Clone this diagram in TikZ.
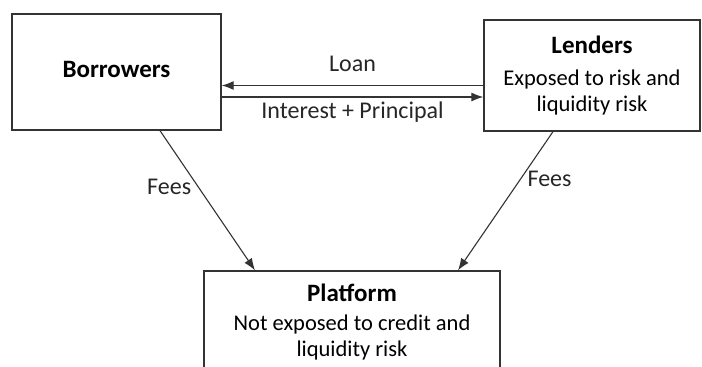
\documentclass[tikz,border=0pt]{standalone}
\usepackage{fontspec}
\setmainfont{Carlito}
\usetikzlibrary{arrows.meta}

\newcommand{\boxtitle}[1]{{\fontsize{25}{25}\selectfont\bfseries #1}}

\begin{document}
\begin{tikzpicture}[x=1pt,y=-1pt,
        box/.style={draw=black!80, line width=1.3pt, align=center, inner sep=0pt,
            font=\fontsize{22.5}{25}\selectfont},
        arr/.style={draw=black!80, line width=1.1pt, -{Latex[length=12pt,width=9pt]}},
        lbl/.style={text=black!85, font=\fontsize{24}{28}\selectfont}]
    \clip (0,0) rectangle (702,367);

    \node[box, minimum width=209pt, minimum height=116pt] (borr) at (116.5,72) {\raisebox{6pt}{\boxtitle{Borrowers}}};
    \node[box, minimum width=216pt, minimum height=111pt] (lend) at (592,75.5)
        {\boxtitle{Lenders}\\[7pt] Exposed to risk and\\[1pt] liquidity risk};
    \node[box, minimum width=296pt, minimum height=102pt] (plat) at (352,322)
        {\boxtitle{Platform}\\[4pt] Not exposed to credit and\\[1pt] liquidity risk};

    \coordinate (loan) at ([yshift=-10pt]lend.west);
    \coordinate (back) at ([yshift=-21.5pt]lend.west);
    \draw[arr] (loan) -- node[lbl, above=10pt] {Loan} (loan -| borr.east);
    \draw[arr] (back -| borr.east) -- node[lbl, below=0.5pt] {Interest + Principal} (back);

    \draw[arr] ([xshift=43.5pt]borr.south) -- node[lbl, pos=0.4, left=3pt] {Fees} ([xshift=-97pt]plat.north);
    \draw[arr] ([xshift=-39pt]lend.south) -- node[lbl, pos=0.34, right=3pt] {Fees} ([xshift=106pt]plat.north);
\end{tikzpicture}
\end{document}
